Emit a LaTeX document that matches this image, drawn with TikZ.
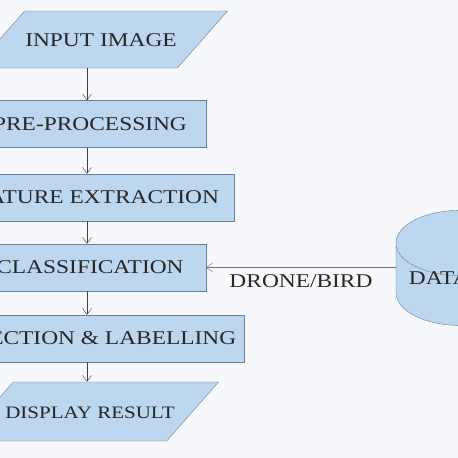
\documentclass[tikz,border=0pt]{standalone}
\usepackage{fontspec}
\setmainfont[FakeStretch=1.2]{Liberation Serif}
\usepackage{xcolor}
\usetikzlibrary{shapes.geometric, arrows, arrows.meta, positioning}

\definecolor{boxfill}{HTML}{BDD7EE}
\definecolor{boxline}{HTML}{6A7FA0}
\definecolor{bgcol}{HTML}{F6F8FB}

\begin{document}
\begin{tikzpicture}[
            x=1pt, y=-1pt,
            font=\fontsize{19.5}{22}\selectfont,
            box/.style={rectangle, draw=boxline, fill=boxfill, minimum height=47pt, inner sep=0pt, align=center, text=black!85},
            io/.style={trapezium, draw=boxline, fill=boxfill, trapezium left angle=48.7, trapezium right angle=131.3,
                trapezium stretches body=true, text height=35pt, text depth=22pt, inner sep=0pt, text=black!85},
            db/.style={cylinder, shape border rotate=90, draw=boxline, cylinder uses custom fill,
                cylinder body fill=boxfill, cylinder end fill=boxfill, aspect=0.6, minimum width=128pt, minimum height=115pt,
                text=black!85},
            arrow/.style={-{Straight Barb[length=6pt, width=9pt]}, draw=black!75}
        ]
        \useasboundingbox[fill=bgcol] (0,0) rectangle (458,458);
        \clip (0,0) rectangle (458,458);

        % Input
        \node[io, minimum width=253pt] (input) at (101,39.5) {INPUT IMAGE};

        % Processing steps
        \node[box, minimum width=238pt] (pre) at (87,124) {\hspace{6pt}PRE-PROCESSING};
        \node[box, minimum width=294pt] (feat) at (87,197.5) {\hspace{6pt}FEATURE EXTRACTION};
        \node[box, minimum width=238pt] (cls) at (87,267.5) {\hspace{6pt}CLASSIFICATION};
        \node[box, minimum width=314pt] (det) at (87,338.5) {\hspace{6pt}DETECTION \& LABELLING};

        % Output
        \node[io, minimum width=252pt, text height=36pt, text depth=23pt, inner xsep=-8pt,
            font=\fontsize{17.5}{20}\selectfont] (display) at (90,411.5) {DISPLAY RESULT};

        % Database
        \node[db] (data) at (460,289.5) {\raisebox{5pt}[0pt][0pt]{DATASET}};

        % Conexiones
        \draw[arrow] (input.south -| pre.north) -- (pre.north);
        \draw[arrow] (pre) -- (feat);
        \draw[arrow] (feat) -- (cls);
        \draw[arrow] (cls) -- (det);
        \draw[arrow] (det.south) -- (det.south |- display.north);
        \draw[arrow, draw=black!55] (cls.east -| data.west) -- node[below=4pt, text=black!85] {DRONE/BIRD} (cls.east);

    \end{tikzpicture}
\end{document}
